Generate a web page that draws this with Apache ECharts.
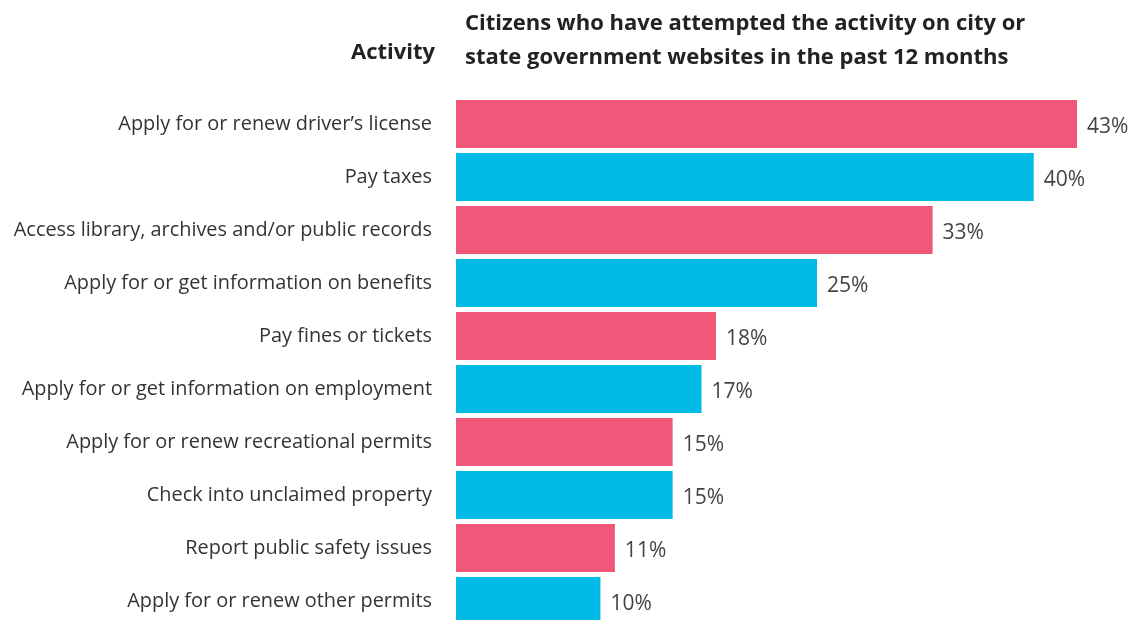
<!DOCTYPE html>
<html>
<head>
<meta charset="utf-8">
<script src="https://cdn.jsdelivr.net/npm/echarts@6/dist/echarts.min.js"></script>
<style>html,body{margin:0;padding:0;background:#fff;overflow:hidden;}#c{width:1144px;height:632px;}</style>
</head>
<body>
<div id="c"></div>
<script>
const categories = [
  "Apply for or renew driver’s license",
  "Pay taxes",
  "Access library, archives and/or public records",
  "Apply for or get information on benefits",
  "Pay fines or tickets",
  "Apply for or get information on employment",
  "Apply for or renew recreational permits",
  "Check into unclaimed property",
  "Report public safety issues",
  "Apply for or renew other permits"
];
const values = [43, 40, 33, 25, 18, 17, 15, 15, 11, 10];
const colors = ["#F05779", "#00BBE6"];
const axisTitle = "Activity";
const chartTitle = ["Citizens who have attempted the activity on city or", "state government websites in the past 12 months"];

const FONT = "'Open Sans'";
const chart = echarts.init(document.getElementById('c'));
chart.setOption({
  animation: false,
  backgroundColor: '#fff',
  grid: { left: 456, top: 97.5, width: 678.8, height: 530, containLabel: false },
  xAxis: { type: 'value', min: 0, max: 47, show: false },
  yAxis: {
    type: 'category', inverse: true, data: categories,
    axisLine: { show: false }, axisTick: { show: false },
    axisLabel: { margin: 24, fontSize: 19.9, color: '#333', fontFamily: FONT }
  },
  graphic: [
    { type: 'text', right: 1144 - 435, top: 42, style: { text: axisTitle, font: 'bold 22px ' + FONT, fill: '#222', textAlign: 'right' } },
    { type: 'text', left: 465, top: 7, style: { text: chartTitle.join('\n'), font: 'bold 22px ' + FONT, fill: '#222', lineHeight: 34 } }
  ],
  series: [{
    type: 'bar', barCategoryGap: '9.4%',
    data: values.map((v, i) => ({ value: v, itemStyle: { color: colors[i % 2] } })),
    label: { show: true, position: 'right', distance: 10, formatter: '{c}%', fontSize: 21, color: '#444', fontFamily: FONT, offset: [0, 3] }
  }]
});
</script>
</body>
</html>
